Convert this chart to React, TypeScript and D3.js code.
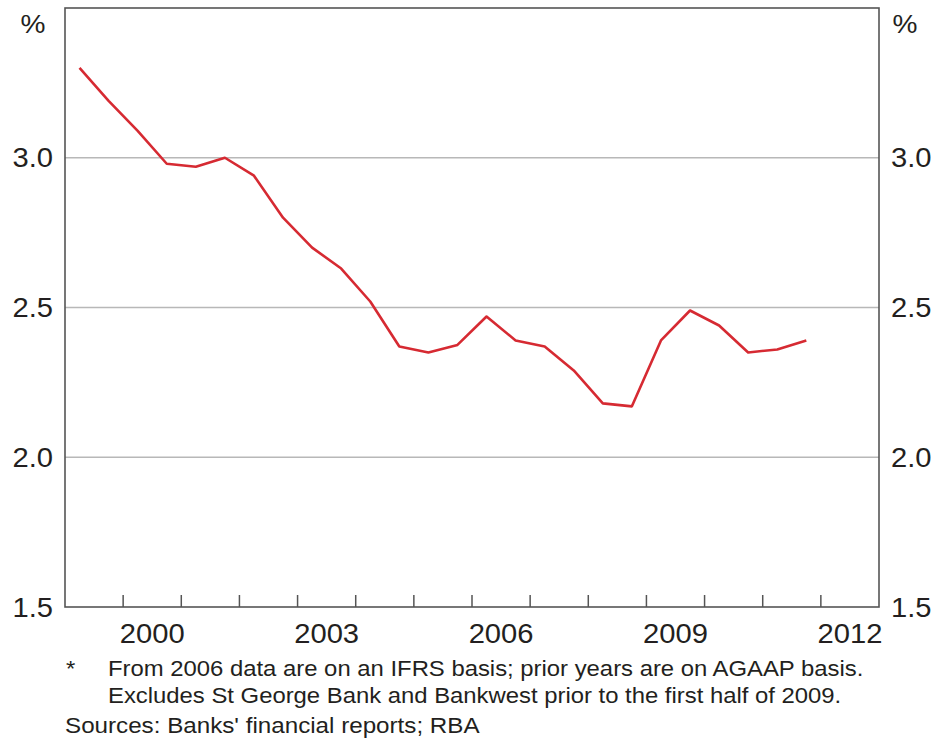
import React from "react";
import * as d3 from "d3";

const periods: number[] = [
  1999.25, 1999.75, 2000.25, 2000.75, 2001.25, 2001.75, 2002.25, 2002.75,
  2003.25, 2003.75, 2004.25, 2004.75, 2005.25, 2005.75, 2006.25, 2006.75,
  2007.25, 2007.75, 2008.25, 2008.75, 2009.25, 2009.75, 2010.25, 2010.75,
  2011.25, 2011.75,
];
const values: number[] = [
  3.3, 3.19, 3.09, 2.98, 2.97, 3.0, 2.94, 2.8, 2.7, 2.63, 2.52, 2.37, 2.35,
  2.375, 2.47, 2.39, 2.37, 2.29, 2.18, 2.17, 2.39, 2.49, 2.44, 2.35, 2.36,
  2.39,
];
const yTicks: number[] = [1.5, 2.0, 2.5, 3.0];
const gridValues: number[] = [2.0, 2.5, 3.0];
const yearTicks: number[] = [
  2000, 2001, 2002, 2003, 2004, 2005, 2006, 2007, 2008, 2009, 2010, 2011, 2012,
];
const yearLabels: number[] = [2000, 2003, 2006, 2009, 2012];
const footnoteLines: string[] = [
  "From 2006 data are on an IFRS basis; prior years are on AGAAP basis.",
  "Excludes St George Bank and Bankwest prior to the first half of 2009.",
];
const sourceText = "Sources: Banks' financial reports; RBA";

const W = 939;
const H = 740;
const left = 65;
const right = 879;
const top = 8;
const bottom = 607;

type TProps = {
  x: number;
  y: number;
  size: number;
  sx: number;
  anchor?: "start" | "middle" | "end";
  children: React.ReactNode;
};

function T({ x, y, size, sx, anchor = "start", children }: TProps) {
  return (
    <text
      transform={`translate(${x},${y}) scale(${sx},1)`}
      textAnchor={anchor}
      fontSize={size}
      fill="#231f20"
    >
      {children}
    </text>
  );
}

export default function App() {
  const x = d3.scaleLinear().domain([1999, 2013]).range([left, right]);
  const y = d3.scaleLinear().domain([1.5, 3.5]).range([bottom, top]);
  const line = d3
    .line<number>()
    .x((_, i) => x(periods[i]))
    .y((d) => y(d));

  const font = "'Liberation Sans', Arial, sans-serif";
  const frame = "#555555";

  return (
    <svg
      width={W}
      height={H}
      style={{ position: "absolute", left: 0, top: 0, display: "block", background: "#fff" }}
      fontFamily={font}
    >
      {gridValues.map((g) => (
        <line key={g} x1={left} x2={right} y1={y(g)} y2={y(g)} stroke="#b8b8b8" strokeWidth={1.3} />
      ))}
      {yearTicks.map((t) => (
        <line key={t} x1={x(t)} x2={x(t)} y1={bottom} y2={bottom - 12} stroke={frame} strokeWidth={1.5} />
      ))}
      <rect x={left} y={top} width={right - left} height={bottom - top} fill="none" stroke={frame} strokeWidth={1.6} />
      <path d={line(values) || ""} fill="none" stroke="#d62a32" strokeWidth={2.6} strokeLinejoin="round" />

      {yTicks.map((t) => (
        <g key={t}>
          <T x={53} y={y(t) + 9.5} size={27} sx={1.08} anchor="end">
            {t.toFixed(1)}
          </T>
          <T x={891} y={y(t) + 9.5} size={27} sx={1.08}>
            {t.toFixed(1)}
          </T>
        </g>
      ))}
      <T x={33} y={33} size={26} sx={1.08} anchor="middle">%</T>
      <T x={905} y={33} size={26} sx={1.08} anchor="middle">%</T>

      {yearLabels.map((yr) => (
        <T key={yr} x={x(yr + 0.5)} y={643} size={27} sx={1.08} anchor="middle">
          {yr}
        </T>
      ))}

      <T x={66} y={676} size={22} sx={1.085}>*</T>
      {footnoteLines.map((l, i) => (
        <T key={i} x={108} y={676 + i * 27} size={22} sx={1.085}>
          {l}
        </T>
      ))}
      <T x={65} y={733} size={22} sx={1.1}>{sourceText}</T>
    </svg>
  );
}
